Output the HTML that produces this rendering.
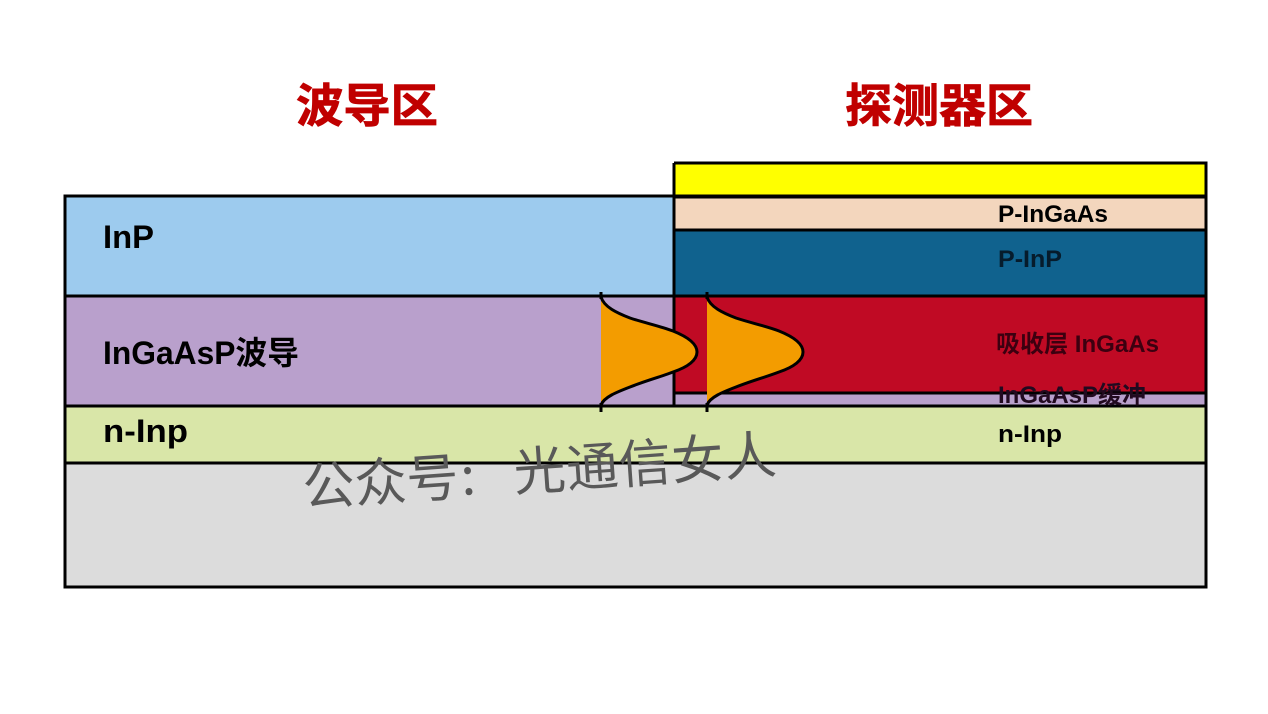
<!DOCTYPE html>
<html lang="zh">
<head>
<meta charset="utf-8">
<title>波导区与探测器区</title>
<style>
html,body{margin:0;padding:0;background:#fff;width:1268px;height:714px;overflow:hidden}
svg{display:block}
text{font-family:"Liberation Sans","Noto Sans CJK SC",sans-serif;font-weight:700;fill:#000}
.title{fill:#c00000;stroke:#c00000;stroke-width:.8px;font-size:46px}
.big{font-size:32px}
.small{font-size:24px}
.wm{font-weight:400;fill:#595959;font-size:52px;font-family:"Noto Sans CJK SC",sans-serif}
</style>
</head>
<body>
<svg width="1268" height="714" viewBox="0 0 1268 714" xmlns="http://www.w3.org/2000/svg">
<defs>
<path id="curve" d="M601 297C604 307 617 313 630 318C645 323 660 326 673 331C688 337 697 344 697 352C697 360 688 367 673 372C660 377 645 381 630 387C617 392 604 397 601 405"/>
</defs>
<rect width="1268" height="714" fill="#fff"/>

<text class="title" x="296" y="122" textLength="142" lengthAdjust="spacingAndGlyphs">波导区</text>
<text class="title" x="845" y="122" textLength="188" lengthAdjust="spacingAndGlyphs">探测器区</text>

<!-- base layers -->
<rect x="65" y="463" width="1141" height="124" fill="#dcdcdc"/>
<rect x="65" y="406" width="1141" height="57" fill="#d9e6a8"/>
<rect x="65" y="296" width="609" height="110" fill="#b9a0cc"/>
<rect x="65" y="196" width="609" height="100" fill="#9dcbee"/>

<!-- detector stack -->
<rect x="674" y="163" width="532" height="33" fill="#ffff00"/>
<rect x="674" y="197" width="532" height="33" fill="#f3d6bd"/>
<rect x="674" y="230" width="532" height="66" fill="#10628e"/>
<rect x="674" y="296" width="532" height="97" fill="#c00a24"/>
<rect x="674" y="393" width="532" height="13" fill="#b9a0cc"/>

<g fill="none" stroke="#000" stroke-width="3">
  <rect x="65" y="196" width="1141" height="391"/>
  <path d="M674 163H1206V196"/>
  <path d="M674 163V406"/>
  <path d="M674 197H1206"/>
  <path d="M674 230H1206"/>
  <path d="M65 296H1206"/>
  <path d="M674 393H1206"/>
  <path d="M65 406H1206"/>
  <path d="M65 463H1206"/>
</g>

<!-- Gaussian modes -->
<use href="#curve" fill="#f39c00"/>
<use href="#curve" fill="none" stroke="#000" stroke-width="3"/>
<use href="#curve" x="106" fill="#f39c00"/>
<use href="#curve" x="106" fill="none" stroke="#000" stroke-width="3"/>
<path d="M601 292V299M601 403V412M707 292V299M707 403V412" fill="none" stroke="#000" stroke-width="3"/>

<text class="big" x="103" y="248" textLength="51" lengthAdjust="spacingAndGlyphs">InP</text>
<text class="big" x="103" y="364" textLength="196" lengthAdjust="spacingAndGlyphs">InGaAsP波导</text>
<text class="big" x="103" y="442" textLength="85" lengthAdjust="spacingAndGlyphs">n-Inp</text>

<text class="small" x="998" y="222" textLength="110" lengthAdjust="spacingAndGlyphs">P-InGaAs</text>
<text class="small" x="998" y="267" textLength="64" lengthAdjust="spacingAndGlyphs" style="fill:#061c2c">P-InP</text>
<text class="small" x="996" y="352" textLength="163" lengthAdjust="spacingAndGlyphs" style="fill:#3c0010">吸收层 InGaAs</text>
<text class="small" x="998" y="403" textLength="148" lengthAdjust="spacingAndGlyphs" style="fill:#220a20">InGaAsP缓冲</text>
<text class="small" x="998" y="442" textLength="64" lengthAdjust="spacingAndGlyphs">n-Inp</text>

<text class="wm" transform="translate(304 506) rotate(-4)">公众号</text>
<text class="wm" transform="translate(462 495) rotate(-4)">:</text>
<text class="wm" transform="translate(515 491) rotate(-4)" textLength="263" lengthAdjust="spacing">光通信女人</text>
</svg>
</body>
</html>
